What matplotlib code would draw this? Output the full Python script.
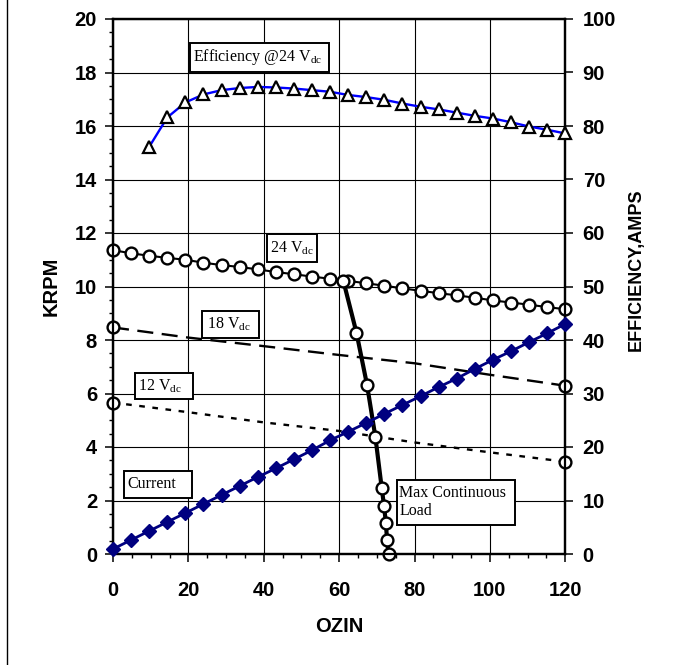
import matplotlib
matplotlib.use("Agg")
import matplotlib.pyplot as plt
from matplotlib.patches import Rectangle
from matplotlib.lines import Line2D
from matplotlib.ticker import MultipleLocator

plt.rcParams['font.family'] = ['Liberation Sans', 'DejaVu Sans']
plt.rcParams['mathtext.fontset'] = 'custom'
plt.rcParams['mathtext.rm'] = 'Liberation Serif'
plt.rcParams['mathtext.it'] = 'Liberation Serif:italic'

# ---- data ----
ozin = [round(4.8 * i, 1) for i in range(26)]
krpm_24v = [11.36, 11.24, 11.15, 11.07, 11.00, 10.89, 10.80, 10.73, 10.64, 10.54,
            10.46, 10.37, 10.29, 10.21, 10.12, 10.03, 9.93, 9.84, 9.75, 9.67,
            9.58, 9.48, 9.40, 9.32, 9.23, 9.15]
eff_ozin = ozin[2:]
efficiency = [76.1, 81.6, 84.4, 85.9, 86.7, 87.1, 87.3, 87.2, 87.0, 86.7, 86.4,
              85.8, 85.4, 84.9, 84.2, 83.6, 83.1, 82.5, 81.9, 81.4, 80.7, 79.9,
              79.3, 78.6]
current = [0.93, 2.62, 4.30, 5.98, 7.66, 9.35, 11.03, 12.71, 14.39, 16.0, 17.7,
           19.4, 21.25, 22.86, 24.5, 26.2, 27.85, 29.5, 31.2, 32.8, 34.6, 36.3,
           37.9, 39.6, 41.25, 43.0]
v_ozin = [0, 20, 40, 60, 80, 100, 120]
krpm_18v = [8.47, 8.09, 7.77, 7.44, 7.13, 6.70, 6.29]
krpm_12v = [5.66, 5.30, 4.92, 4.60, 4.17, 3.80, 3.45]
load_ozin = [61.1, 64.6, 67.4, 69.6, 71.3, 71.9, 72.4, 72.7, 73.1]
load_krpm = [10.22, 8.27, 6.32, 4.39, 2.46, 1.81, 1.17, 0.52, 0.0]

W, H = 678, 665
fig = plt.figure(figsize=(W/100, H/100), dpi=100)
ax = fig.add_axes([113/W, 1-554/H, (565.3-113)/W, (554-19)/H])
ax2 = ax.twinx()

ax.set_xlim(0, 120)
ax.set_ylim(0, 20)
ax2.set_ylim(0, 100)

ax.xaxis.set_major_locator(MultipleLocator(20))
ax.xaxis.set_minor_locator(MultipleLocator(5))
ax.yaxis.set_major_locator(MultipleLocator(2))
ax.yaxis.set_minor_locator(MultipleLocator(0.5))
ax2.yaxis.set_major_locator(MultipleLocator(10))

ax.grid(True, which='major', color='black', linewidth=0.8)
ax.set_axisbelow(True)

for a in (ax, ax2):
    for s in a.spines.values():
        s.set_linewidth(1.6)
        s.set_color('black')

ax.tick_params(axis='both', which='major', direction='out', length=5.5, width=1.1,
               labelsize=14.5, top=False, right=False)
ax.tick_params(axis='y', which='major', pad=6)
ax.tick_params(axis='x', which='major', pad=14)
ax.tick_params(axis='both', which='minor', direction='out', length=3, width=1.0,
               top=False, right=False)
ax2.tick_params(axis='y', which='major', direction='out', length=5.5, width=1.1,
                labelsize=14.5, pad=7)
for lbl in ax.get_xticklabels() + ax.get_yticklabels() + ax2.get_yticklabels():
    lbl.set_fontweight('bold')

ax.set_xlabel('OZIN', fontsize=14.5, fontweight='bold', labelpad=12)
ax.set_ylabel('KRPM', fontsize=14.5, fontweight='bold', labelpad=10)
fig.text(636/W, 1-270/H, 'EFFICIENCY,AMPS', rotation=90, ha='center', va='center',
         fontsize=13, fontweight='bold')

# 18 V and 12 V lines
ax.plot(v_ozin, krpm_18v, color='black', lw=1.7, dashes=(6.8, 3.6), zorder=3)
ax.plot(v_ozin, krpm_12v, color='black', lw=1.7, dashes=(2.4, 3.2), zorder=3)
for ys in (krpm_18v, krpm_12v):
    ax.plot([v_ozin[0], v_ozin[-1]], [ys[0], ys[-1]], ls='none', marker='o',
            ms=8.5, mfc='white', mec='black', mew=1.7, zorder=5, clip_on=False)

# 24 V speed
ax.plot(ozin, krpm_24v, color='black', lw=1.5, marker='o', ms=8.5, mfc='white',
        mec='black', mew=1.7, zorder=4, clip_on=False)

# Max continuous load
ax.plot(load_ozin, load_krpm, color='black', lw=3.0, marker='o', ms=8.5,
        mfc='white', mec='black', mew=1.7, zorder=6, clip_on=False)

# Efficiency and current (right axis)
ax2.plot(eff_ozin, efficiency, color='#0000FF', lw=1.7, marker='^', ms=9,
         mfc='white', mec='black', mew=1.6, zorder=4, clip_on=False)
ax2.plot(ozin, current, color='#000080', lw=2.0, marker='D', ms=7.5, mfc='#000080',
         mec='#000080', zorder=4, clip_on=False)

# Labels in boxes
boxes = [
    (20.4, 18.03, 37.0, 1.08, 21.1, 18.57, 'Efficiency @24 V$_{\\mathrm{dc}}$'),
    (40.8, 10.93, 13.3, 1.02, 41.7, 11.44, '24 V$_{\\mathrm{dc}}$'),
    (23.5, 8.09, 15.3, 0.99, 24.9, 8.58, '18 V$_{\\mathrm{dc}}$'),
    (5.8, 5.79, 15.3, 0.99, 6.7, 6.28, '12 V$_{\\mathrm{dc}}$'),
    (2.9, 2.08, 18.0, 1.03, 3.8, 2.60, 'Current'),
    (75.4, 1.08, 31.2, 1.69, 76.0, 1.93, 'Max Continuous\nLoad'),
]
for x0, y0, w, h, tx, ty, txt in boxes:
    ax2.add_patch(Rectangle((x0, y0), w, h, transform=ax.transData,
                            facecolor='white', edgecolor='black', lw=1.4, zorder=8))
    ax2.text(tx, ty, txt, transform=ax.transData, ha='left', va='center',
             fontsize=11.5, family='Liberation Serif', zorder=9, linespacing=1.15)

fig.add_artist(Line2D([6.5/W, 6.5/W], [0, 1], transform=fig.transFigure,
                      color='black', lw=1.0))

fig.savefig('out.png', dpi=100)
